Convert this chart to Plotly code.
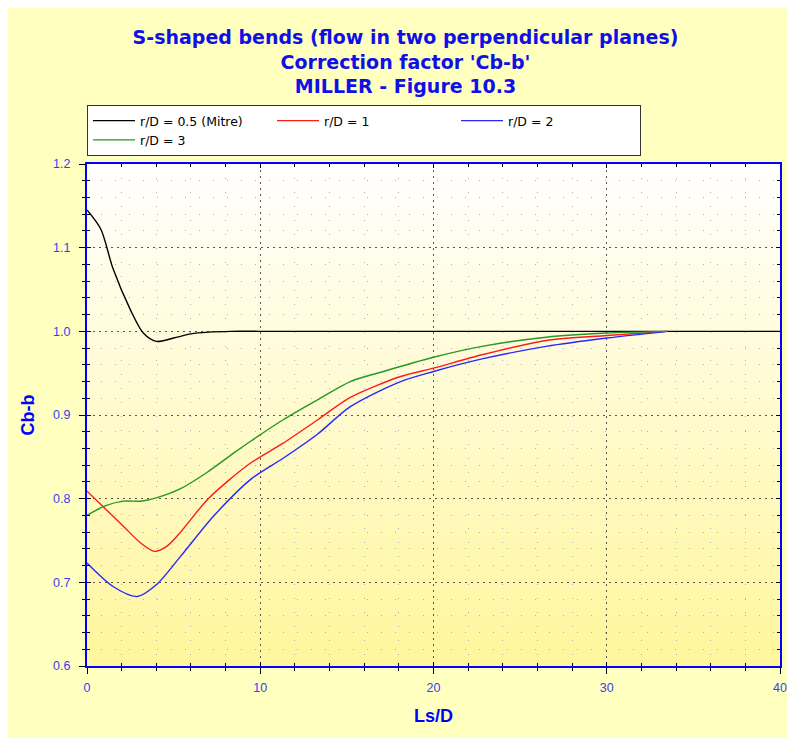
import base64
import plotly.graph_objects as go

# ---- data ----
mitre_x = [0, 0.8, 1.5, 2.5, 3.25, 4.0, 5.0, 6.0, 7.0, 8.3, 10, 40]
mitre_y = [1.145, 1.122, 1.075, 1.026, 0.998, 0.988, 0.992, 0.997, 0.999, 1.0, 1.0, 1.0]

r1_x = [0, 0.8, 2.1, 3.1, 3.9, 4.6, 5.4, 7.0, 9.4, 11.3, 13.3, 15.2, 18.1, 20, 22.8, 26.5, 30, 33.5]
r1_y = [0.809, 0.793, 0.767, 0.747, 0.737, 0.743, 0.760, 0.800, 0.842, 0.866, 0.894, 0.921, 0.946, 0.956, 0.972, 0.989, 0.995, 1.0]

r2_x = [0, 1.5, 2.9, 4.0, 5.4, 7.3, 9.5, 11.3, 13.3, 15.2, 18.1, 20, 22.8, 26.5, 30, 33.5]
r2_y = [0.723, 0.695, 0.683, 0.697, 0.731, 0.779, 0.824, 0.848, 0.877, 0.910, 0.940, 0.952, 0.967, 0.982, 0.992, 1.0]

r3_x = [0, 1.0, 2.1, 3.1, 4.0, 5.4, 6.9, 8.5, 9.4, 11.3, 13.3, 15.2, 17.1, 20, 22.8, 26.5, 30, 33.5]
r3_y = [0.780, 0.791, 0.797, 0.797, 0.801, 0.812, 0.831, 0.855, 0.868, 0.894, 0.918, 0.940, 0.952, 0.969, 0.982, 0.993, 0.998, 1.0]

series = [
    ("r/D = 0.5 (Mitre)", mitre_x, mitre_y, "#000000"),
    ("r/D = 1", r1_x, r1_y, "#FF1A1A"),
    ("r/D = 2", r2_x, r2_y, "#2828FF"),
    ("r/D = 3", r3_x, r3_y, "#229922"),
]

x_range = [0, 40]
y_range = [0.6, 1.2]

TICK_BLUE = "#3C3CF0"
TITLE_BLUE = "#1010E6"
FONT = "Liberation Sans, Arial, sans-serif"
WIDE = "DejaVu Sans, sans-serif"

# vertical gradient for the plot area (white at top -> yellow at bottom)
svg = ('<svg xmlns="http://www.w3.org/2000/svg" width="10" height="100" preserveAspectRatio="none">'
       '<defs><linearGradient id="g" x1="0" y1="0" x2="0" y2="1">'
       '<stop offset="0" stop-color="#FFFFFF"/><stop offset="1" stop-color="#FFF69C"/>'
       '</linearGradient></defs><rect width="10" height="100" fill="url(#g)"/></svg>')
grad_src = "data:image/svg+xml;base64," + base64.b64encode(svg.encode()).decode()

fig = go.Figure()

for name, xs, ys, col in series:
    fig.add_trace(go.Scatter(
        x=xs, y=ys, mode="lines", name=name,
        line=dict(color=col, width=1.4, shape="spline", smoothing=0.8),
    ))

# helper trace for inner-tick overlay axes
fig.add_trace(go.Scatter(x=[0], y=[0.6], mode="markers", marker=dict(opacity=0),
                         xaxis="x2", yaxis="y2", showlegend=False, hoverinfo="skip"))

# page body adds an 8px offset; margins are set so that the plot area lands
# at x 87..780, y 164..666 in the window
W, H = 795, 738
L, R, T, B = 79, 23, 156, 80
plot_w = W - L - R
plot_h = H - T - B

fig.update_layout(
    width=W, height=H,
    margin=dict(l=L, r=R, t=T, b=B),
    paper_bgcolor="#FFFFC0",
    plot_bgcolor="rgba(0,0,0,0)",
    font=dict(family=FONT),
    images=[dict(source=grad_src, xref="x", yref="y", x=x_range[0], y=y_range[1],
                 sizex=x_range[1] - x_range[0], sizey=y_range[1] - y_range[0],
                 sizing="stretch", layer="below", xanchor="left", yanchor="top")],
    title=dict(
        text="S-shaped bends (flow in two perpendicular planes)<br>Correction factor 'Cb-b'<br>MILLER - Figure 10.3",
        font=dict(family=WIDE, size=19, color=TITLE_BLUE, weight="bold"),
        x=0.5, xanchor="center", xref="container",
        y=1 - 36 / H, yanchor="top", yref="container",
    ),
    legend=dict(
        orientation="h", x=0, xanchor="left",
        y=1 + 8 / plot_h, yanchor="bottom",
        entrywidth=127, entrywidthmode="pixels", itemwidth=42,
        bgcolor="#FFFFFF", bordercolor="#333333", borderwidth=1,
        font=dict(family=WIDE, size=12.5, color="#000000"),
        tracegroupgap=0,
    ),
    xaxis=dict(
        range=x_range, dtick=10, tick0=0, automargin=False,
        showline=True, linecolor="#0000FF", linewidth=2, mirror=True,
        ticks="outside", ticklen=6, tickcolor="#000000", tickwidth=1,
        ticklabelstandoff=3,
        tickfont=dict(family=FONT, size=12.5, color=TICK_BLUE),
        showgrid=True, gridcolor="#555555", griddash="2px,4px", gridwidth=1,
        minor=dict(dtick=2, ticks="outside", ticklen=3, tickcolor="#000000",
                   showgrid=True, gridcolor="#B0B0B0", griddash="1px,13px"),
        zeroline=False,
        title=dict(text="Ls/D", font=dict(family=FONT, size=18, color="#0000FF", weight="bold"),
                   standoff=15),
    ),
    yaxis=dict(
        range=y_range, dtick=0.1, tick0=0.6, tickformat=".1f", automargin=False,
        showline=True, linecolor="#0000FF", linewidth=2, mirror=True,
        ticks="outside", ticklen=6, tickcolor="#000000", tickwidth=1,
        ticklabelstandoff=6,
        tickfont=dict(family=FONT, size=12.5, color=TICK_BLUE),
        showgrid=True, gridcolor="#555555", griddash="2px,4px", gridwidth=1,
        minor=dict(dtick=0.02, ticks="outside", ticklen=3, tickcolor="#000000",
                   showgrid=True, gridcolor="#B0B0B0", griddash="1px,13px"),
        zeroline=False,
        title=dict(text="Cb-b", font=dict(family=FONT, size=18, color="#0000FF", weight="bold"),
                   standoff=14),
    ),
    xaxis2=dict(
        range=x_range, dtick=10, overlaying="x", side="bottom", automargin=False,
        showline=False, showgrid=False, zeroline=False, showticklabels=False,
        ticks="inside", ticklen=4, tickcolor="#000000", mirror="ticks",
        minor=dict(dtick=2, ticks="inside", ticklen=3, tickcolor="#000000"),
    ),
    yaxis2=dict(
        range=y_range, dtick=0.1, overlaying="y", side="left", automargin=False,
        showline=False, showgrid=False, zeroline=False, showticklabels=False,
        ticks="inside", ticklen=4, tickcolor="#000000", mirror="ticks",
        minor=dict(dtick=0.02, ticks="inside", ticklen=3, tickcolor="#000000"),
    ),
)

fig.write_html("out.html")
